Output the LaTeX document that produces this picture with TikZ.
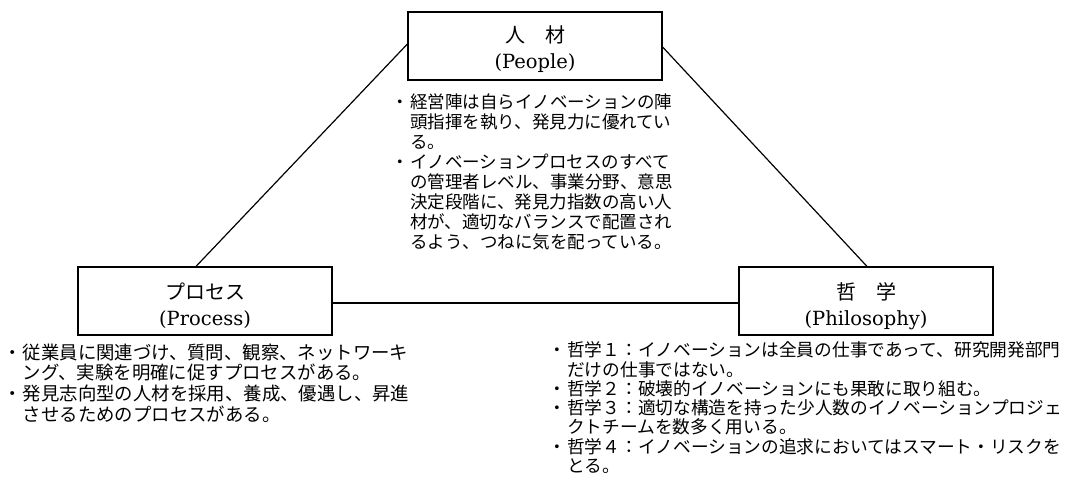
\documentclass[tikz,border=0pt]{standalone}
\usepackage{fontspec}
\newfontfamily\jp{Noto Sans CJK JP}
\newfontfamily\ser{DejaVu Serif}
\tikzset{
  box/.style={draw, line width=1.2pt, minimum width=254pt, minimum height=68pt, inner sep=0pt},
  jtitle/.style={anchor=base, inner sep=0pt, font=\jp\fontsize{20}{24}\selectfont},
  etitle/.style={anchor=base, inner sep=0pt, font=\ser\fontsize{19.5}{24}\selectfont},
  conn/.style={line width=1.2pt},
  ptxt/.style={anchor=base west, inner sep=0pt, font=\jp\fontsize{17.5}{20}\selectfont},
  rtxt/.style={anchor=base west, inner sep=0pt, font=\jp\fontsize{18.4}{20}\selectfont},
  ftxt/.style={anchor=base west, inner sep=0pt, font=\jp\fontsize{17.7}{20}\selectfont},
}
\newcommand{\bul}{\makebox[13pt][l]{\hspace{-6pt}・}}
\begin{document}
\begin{tikzpicture}[x=1pt,y=-1pt]
\useasboundingbox (0,0) rectangle (1067,496);
% boxes
\node[box] (people) at (535,46) {};
\node[box] (process) at (205,301) {};
\node[box] (philo) at (866,301) {};
% titles
\node[jtitle] (peoplej) at ([yshift=-31pt]people.north) {人　材};
\node[etitle] (peoplee) at ([yshift=-57pt]people.north) {(People)};
\node[jtitle] (processj) at ([yshift=-33pt]process.north) {プロセス};
\node[etitle] (processe) at ([yshift=-59pt]process.north) {(Process)};
\node[jtitle] (philoj) at ([yshift=-33pt]philo.north) {哲　学};
\node[etitle] (philoe) at ([yshift=-59pt]philo.north) {(Philosophy)};
% connectors
\draw[conn] ([yshift=2pt]people.west) -- ([xshift=-9pt]process.north);
\draw[conn] ([yshift=-1pt]people.east) -- ([xshift=1pt]philo.north);
\draw[conn] ([yshift=-2pt]process.east) -- ([yshift=-2pt]philo.west);
% people text
\node[ptxt] (p1) at (397,108.6) {\bul 経営陣は自らイノベーションの陣};
\node[ptxt] (p2) at (410,128.6) {頭指揮を執り、発見力に優れてい};
\node[ptxt] (p3) at (410,148.6) {る。};
\node[ptxt] (p4) at (397,168.6) {\bul イノベーションプロセスのすべて};
\node[ptxt] (p5) at (410,188.6) {の管理者レベル、事業分野、意思};
\node[ptxt] (p6) at (410,208.6) {決定段階に、発見力指数の高い人};
\node[ptxt] (p7) at (410,228.6) {材が、適切なバランスで配置され};
\node[ptxt] (p8) at (410,248.6) {るよう、つねに気を配っている。};
% process text
\node[rtxt] (r1) at (9.7,359) {\bul 従業員に関連づけ、質問、観察、ネットワーキ};
\node[rtxt] (r2) at (22.7,379.7) {ング、実験を明確に促すプロセスがある。};
\node[rtxt] (r3) at (9.7,400.4) {\bul 発見志向型の人材を採用、養成、優遇し、昇進};
\node[rtxt] (r4) at (22.7,421.1) {させるためのプロセスがある。};
% philosophy text
\node[ftxt] (f1) at (554,356.7) {\bul 哲学１：イノベーションは全員の仕事であって、研究開発部門};
\node[ftxt] (f2) at (567,376) {だけの仕事ではない。};
\node[ftxt] (f3) at (554,395.3) {\bul 哲学２：破壊的イノベーションにも果敢に取り組む。};
\node[ftxt] (f4) at (554,414.6) {\bul 哲学３：適切な構造を持った少人数のイノベーションプロジェ};
\node[ftxt] (f5) at (567,433.9) {クトチームを数多く用いる。};
\node[ftxt] (f6) at (554,453.2) {\bul 哲学４：イノベーションの追求においてはスマート・リスクを};
\node[ftxt] (f7) at (567,472.5) {とる。};
\end{tikzpicture}
\end{document}
